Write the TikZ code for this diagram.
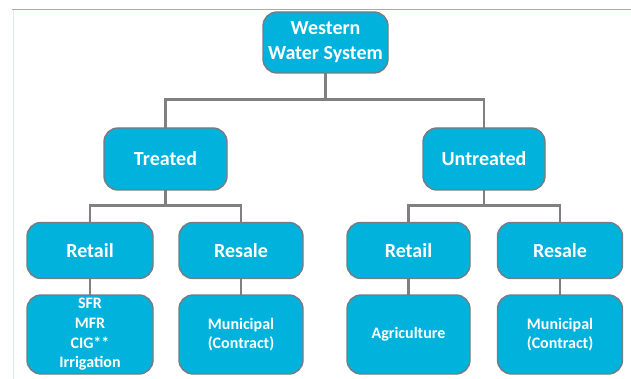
\documentclass[tikz,border=0pt]{standalone}
\usepackage{fontspec}
\setmainfont{Carlito}
\begin{document}
\begin{tikzpicture}[x=1pt,y=-1pt,
  box/.style={draw=boxgray, line width=1.4pt, fill=boxblue, rounded corners=14pt,
    text=white, font=\bfseries\fontsize{20}{25}\selectfont, align=center, inner sep=0pt},
  leaf/.style={box, font=\bfseries\fontsize{16}{19.6}\selectfont},
  conn/.style={draw=linegray, line width=2.4pt}]
\definecolor{boxblue}{RGB}{0,178,220}
\definecolor{boxgray}{RGB}{118,124,130}
\definecolor{linegray}{RGB}{128,128,128}
\definecolor{topblue}{RGB}{140,176,224}
\definecolor{leftgray}{RGB}{226,232,240}
\useasboundingbox (0,0) rectangle (631,379);
\draw[topblue, line width=1.2pt] (12,9.5) -- (631,9.5);
\draw[leftgray, line width=1pt] (13,10) -- (13,379);

\coordinate (h1) at (0,99.5);
\coordinate (h2) at (0,205.5);
\coordinate (ptop) at (325.5,42.5);
\coordinate (ptr) at (165.5,159);
\coordinate (pun) at (484,159);
\coordinate (prl) at (90,250.5);
\coordinate (psl) at (241,250.5);
\coordinate (prr) at (408.5,250.5);
\coordinate (psr) at (560,250.5);

% connectors first, boxes drawn over them
\path[conn] (ptop) -- (ptop |- h1) -| (ptr);
\path[conn] (ptop |- h1) -| (pun);
\path[conn] (ptr) -- (ptr |- h2) -| (prl);
\path[conn] (ptr |- h2) -| (psl);
\path[conn] (pun) -- (pun |- h2) -| (prr);
\path[conn] (pun |- h2) -| (psr);
\path[conn] (prl) -- (prl |- 0,334.5);
\path[conn] (psl) -- (psl |- 0,334.5);
\path[conn] (prr) -- (prr |- 0,334.5);
\path[conn] (psr) -- (psr |- 0,334.5);

\node[box, minimum width=125pt, minimum height=61pt] (top) at (ptop) {Western\\Water System};
\node[box, minimum width=123pt, minimum height=62pt] (tr) at (ptr) {Treated};
\node[box, minimum width=122pt, minimum height=62pt] (un) at (pun) {Untreated};

\node[box, minimum width=126pt, minimum height=56pt] (rl) at (prl) {Retail};
\node[box, minimum width=124pt, minimum height=56pt] (sl) at (psl) {Resale};
\node[box, minimum width=123pt, minimum height=56pt] (rr) at (prr) {Retail};
\node[box, minimum width=125pt, minimum height=56pt] (sr) at (psr) {Resale};

\node[leaf, minimum width=126pt, minimum height=79pt] (rlb) at (90,334.5) {SFR\\MFR\\CIG**\\Irrigation};
\node[leaf, minimum width=124pt, minimum height=79pt] (slb) at (241,334.5) {Municipal\\(Contract)};
\node[leaf, minimum width=123pt, minimum height=79pt] (rrb) at (408.5,334.5) {Agriculture};
\node[leaf, minimum width=125pt, minimum height=79pt] (srb) at (560,334.5) {Municipal\\(Contract)};
\end{tikzpicture}
\end{document}
